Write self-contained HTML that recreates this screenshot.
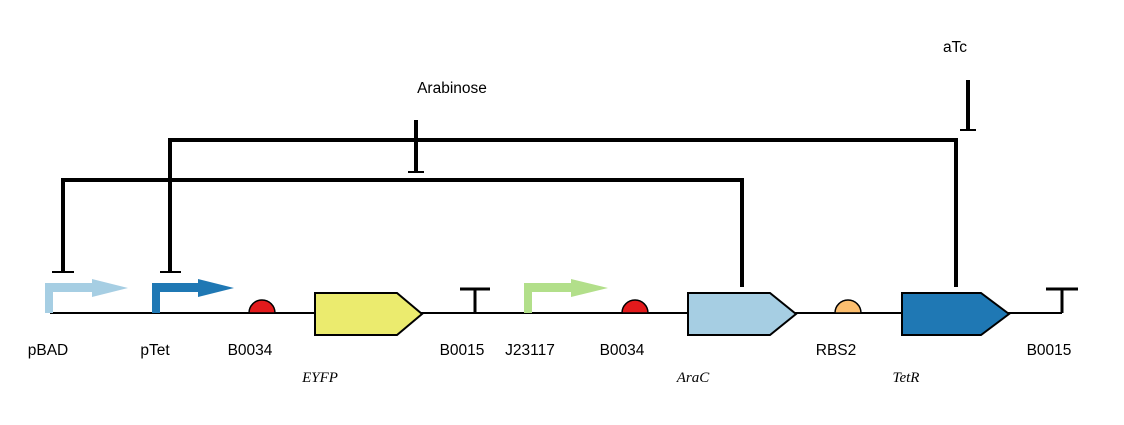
<!DOCTYPE html>
<html><head><style>body{margin:0;background:#fff}svg{display:block}</style></head><body>
<svg width="1124" height="425" xmlns="http://www.w3.org/2000/svg" font-family="Liberation Sans, sans-serif" font-size="15.5">
<rect width="1124" height="425" fill="#fff"/>
<line x1="50" y1="313" x2="1062" y2="313" stroke="#000" stroke-width="2"/>
<g fill="#a6cee3"><rect x="45" y="283" width="8" height="30"/><rect x="45" y="283" width="48" height="9"/><polygon points="92,279 128,288 92,297"/></g>
<g fill="#1f78b4"><rect x="152" y="283" width="8" height="30"/><rect x="152" y="283" width="48" height="9"/><polygon points="198,279 234,288 198,297"/></g>
<g fill="#b2df8a"><rect x="524" y="283" width="8" height="30"/><rect x="524" y="283" width="48" height="9"/><polygon points="571,279 608,288 571,297"/></g>
<path d="M249,313 A13,13 0 0 1 275,313 Z" fill="#e31a1c" stroke="#000" stroke-width="1.5"/>
<path d="M622,313 A13,13 0 0 1 648,313 Z" fill="#e31a1c" stroke="#000" stroke-width="1.5"/>
<path d="M835,313 A13,13 0 0 1 861,313 Z" fill="#fdbf6f" stroke="#000" stroke-width="1.5"/>
<polygon points="315,293 397,293 422,314 397,335 315,335" fill="#ebeb6e" stroke="#000" stroke-width="2"/>
<polygon points="688,293 770,293 796,314 770,335 688,335" fill="#a6cee3" stroke="#000" stroke-width="2"/>
<polygon points="902,293 981,293 1009,314 981,335 902,335" fill="#1f78b4" stroke="#000" stroke-width="2"/>
<g stroke="#000" stroke-width="3" fill="none">
<path d="M475,313 V289 M460,289 H490"/>
<path d="M1062,313 V289 M1046,289 H1078"/>
</g>
<g stroke="#000" stroke-width="4" fill="none">
<path d="M742,287 V180 H63 V272"/>
<path d="M52,272 H74" stroke-width="2"/>
<path d="M956,287 V140 H170 V272"/>
<path d="M160,272 H181" stroke-width="2"/>
<path d="M416,120 V172"/>
<path d="M408,172 H424" stroke-width="2"/>
<path d="M968,80 V130"/>
<path d="M960,130 H976" stroke-width="2"/>
</g>
<g text-anchor="middle" fill="#000">
<text x="452" y="93">Arabinose</text>
<text x="955" y="52">aTc</text>
<text x="48" y="355">pBAD</text>
<text x="155" y="355">pTet</text>
<text x="250" y="355">B0034</text>
<text x="462" y="355">B0015</text>
<text x="530" y="355">J23117</text>
<text x="622" y="355">B0034</text>
<text x="836" y="355">RBS2</text>
<text x="1049" y="355">B0015</text>
<g font-family="Liberation Serif, serif" font-style="italic" font-size="15">
<text x="320" y="382">EYFP</text>
<text x="693" y="382">AraC</text>
<text x="906" y="382">TetR</text>
</g>
</g>
</svg>
</body></html>
